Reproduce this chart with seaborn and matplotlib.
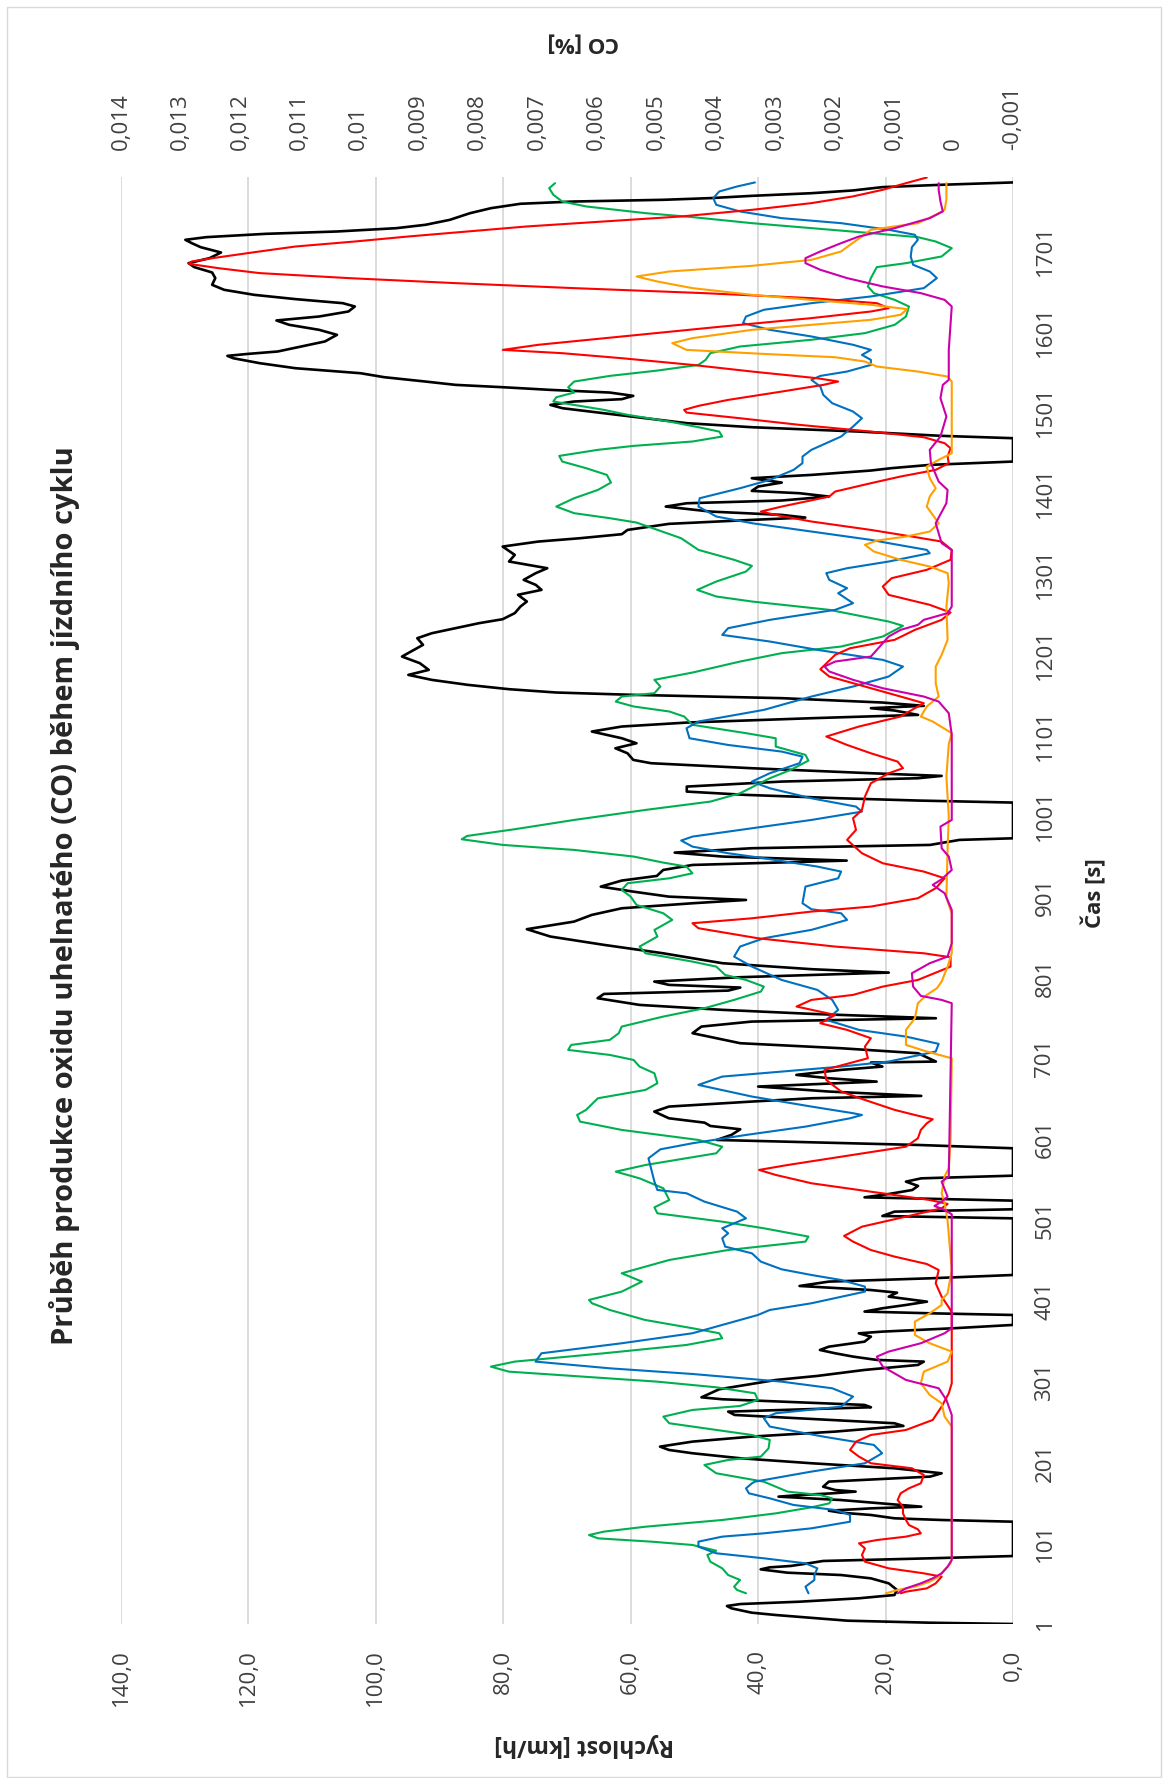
import matplotlib
matplotlib.use("Agg")
import matplotlib.pyplot as plt
import seaborn as sns
from matplotlib.patches import Rectangle

# ---- data (time in s, speed in km/h, CO in %) ----
speed_t = [1, 2.6, 5.1, 9.2, 12.1, 15, 20.4, 23.3, 25.7, 28.6, 32.8, 36.9, 43.1, 51.3, 57.5, 61.6, 64.5, 68.6, 71.1,
           72.8, 76.1, 79, 82.3, 85.1, 127.6, 129.7, 131.8, 135.9, 138.8, 141.2, 144.1, 146.2, 149.5, 154.4, 158.6,
           160.6, 162.7, 164.8, 166.8, 170.9, 177.2, 183.4, 187.5, 193.7, 199.9, 206.1, 212.3, 216.4, 220.5, 226.7,
           232.9, 239.1, 246.1, 249.4, 259.7, 263.8, 269.2, 272.1, 279.1, 281.5, 291.5, 303, 308, 315.4, 321.6, 325.7,
           327.8, 331.9, 336, 340.1, 344.2, 350.4, 356.6, 360.7, 362.8, 367, 371.1, 383.4, 385.5, 387.6, 391.7, 395.8,
           399.9, 406.1, 411, 414.3, 419.3, 424.7, 428.8, 432.9, 503, 505.9, 511.3, 514.2, 524.9, 529, 533.1, 538.1,
           543.1, 548.4, 552.5, 555.8, 589.7, 593.8, 600, 606.2, 613.2, 617.3, 621.4, 626.8, 635.1, 641.3, 647.5,
           651.6, 654.5, 659.9, 666.1, 672.2, 676.4, 680.5, 686.7, 690.8, 695.8, 697, 707.3, 713.5, 719.7, 732.1,
           740.3, 746.5, 750.6, 756, 761, 767.1, 775.4, 780.7, 784.8, 788.6, 791.9, 796, 801.4, 807.1, 811.3, 818.7,
           831, 841.4, 851.7, 860.8, 870.2, 878.5, 886.7, 892.9, 897, 901.1, 907.3, 913.5, 921, 926.7, 934.1, 940.3,
           945.7, 950.7, 955.6, 961, 965.1, 971.3, 973.3, 1017.5, 1020, 1022.8, 1027, 1031.1, 1037.3, 1043.5, 1047.6,
           1050.5, 1053.8, 1060, 1066.2, 1070.3, 1078.5, 1084.7, 1090.9, 1097.1, 1105.4, 1111.6, 1116.5, 1121.9,
           1126, 1131.4, 1134.3, 1137.2, 1141.3, 1146.7, 1150.8, 1153.7, 1157.8, 1163.2, 1169.3, 1175.5, 1181.7,
           1190, 1198.2, 1204.4, 1212.7, 1220.9, 1227.1, 1233.3, 1239.5, 1244.4, 1251.9, 1260.1, 1266.3, 1274.6,
           1280.7, 1286.9, 1293.1, 1301.4, 1307.5, 1315.8, 1324, 1334.3, 1340.5, 1344.6, 1349.6, 1354.9, 1362.4,
           1367.3, 1370.2, 1373.5, 1377.6, 1383.8, 1387.9, 1391.3, 1396.2, 1400.3, 1403.2, 1408.6, 1413.5, 1418.9,
           1423, 1428.4, 1431.3, 1435.4, 1439.5, 1468.4, 1471.3, 1476.6, 1482, 1487, 1493.1, 1499.3, 1505.5, 1509.6,
           1513.8, 1516.7, 1520.8, 1524.9, 1528.2, 1531.5, 1534.4, 1538.5, 1543.9, 1548.8, 1555, 1561.2, 1567.4,
           1570.3, 1572.7, 1575.7, 1581.9, 1588.1, 1596.3, 1602.5, 1608.7, 1614.1, 1619, 1625.2, 1631.4, 1635.5,
           1640.5, 1645.8, 1652, 1658.2, 1666.5, 1673.5, 1680.1, 1685, 1691.2, 1698.2, 1704.8, 1709.8, 1713.9,
           1717.2, 1721.3, 1724.2, 1728.3, 1732.5, 1738.6, 1746.9, 1753.1, 1758.5, 1761.3, 1763.4, 1765.5, 1768.3,
           1771.6, 1775, 1779.1, 1782, 1784.9]
speed_v = [0, 13, 26, 32.6, 37.2, 41, 44.2, 44.9, 42.8, 33.5, 24.2, 18.6, 18.2, 19.5, 22.3, 27, 35.4, 39.6, 38.2,
           34.9, 32.1, 29.8, 13, 0, 0, 11.2, 18.6, 22.3, 27, 28.9, 22.3, 14.4, 19.5, 27, 36.8,
           33.5, 28.4, 24.7, 27.9, 29.8, 28.9, 13, 11.2, 18.6, 31.6, 42.8, 50.3, 54, 55.4, 50.3,
           41, 27.9, 17.2, 18.6, 43.7, 44.7, 22.3, 23.3, 45.6, 48.9, 46.1, 37.2, 30.7, 23.3, 14.9, 14,
           21.4, 25.1, 27.9, 30.3, 28.9, 23.3, 22.3, 24.2, 20.5, 9.3, 0, 0, 13, 23.3, 20.5, 16.8,
           13.5, 19.5, 18.2, 22.3, 33.5, 28.9, 13, 0, 0, 20.5, 18.6, 0, 0, 23.3, 19.5, 15.8,
           14.9, 16.8, 14.4, 0, 0, 14.9, 46.5, 44.2, 42.8, 47.5, 48.4, 54, 56.3, 54, 41,
           31.6, 14.4, 28.9, 40, 21.4, 28.9, 34, 27, 20.5, 22.3, 12.1, 14.9, 27, 42.8, 50.3,
           48.9, 41, 12.1, 31.6, 45.6, 58.6, 65.2, 64.2, 44.7, 42.8, 54, 56.3, 42.8, 19.5, 31.6, 45.6,
           54.9, 64.2, 72.6, 76.3, 68.9, 66.1, 61.4, 50.3, 41.9, 54, 59.6, 64.7, 61.4, 55.9, 54.9, 50.3,
           26.1, 45.6, 53.1, 41, 13, 8.4, 0, 0, 14.9, 27, 41.9, 51.2, 51.2, 36.3, 14.9,
           11.2, 22.3, 41, 56.8, 59.6, 60.5, 62.4, 59.1, 61.4, 66.1, 61.4, 51.2, 31.6,
           14.9, 18.6, 22.3, 14, 20.5, 36.3, 59.6, 71.7, 79.1, 85.6, 91.2, 94.9, 91.7,
           93.1, 95.9, 94.5, 92.6, 93.5, 91.2, 87.5, 83.8, 80.1, 78.2, 77.3, 76.3, 77.7,
           74, 74.9, 76.8, 74.9, 73.1, 79.1, 78.2, 80.1, 74.5, 68, 61.4, 60.5, 54,
           41, 32.6, 36.3, 47.5, 54.5, 51.2, 36.3, 28.9, 33.5, 41, 40, 36.3, 41,
           31.6, 22.3, 19.1, 13, 0, 0, 11.2, 24.2, 41, 51.2, 57.7, 64.2, 70.7, 72.6,
           68.9, 61.4, 59.6, 63.3, 72.6, 80.1, 87.5, 92.2, 98.7, 102.4, 112.6, 118.2, 122.4,
           123.3, 120.1, 115.4, 111.7, 108, 106.1, 108.9, 113.6, 115.6, 108.9, 104.3, 103.3, 105.2,
           112.6, 119.1, 123.8, 125.7, 125.2, 125.7, 128.5, 129.4, 126.1, 124.3, 127.5, 128.9, 129.9,
           126.6, 117.3, 106.1, 96.8, 92.2, 88.4, 85.2, 81.9, 77.3, 68.9, 54.9, 47.5, 41,
           31.6, 25.1, 20.5, 11.2, 0]

green_t = [39, 43.1, 47.2, 55.5, 61.6, 69.9, 78.1, 86.4, 91.7, 98.8, 102.9, 107, 111.1, 115.3, 121.4, 129.7, 137.9,
           145.4, 150.3, 156.5, 160.6, 164.8, 170.9, 177.1, 187.5, 197.8, 204, 208.1, 218.4, 228.8, 234.9, 241.1,
           249.4, 257.6, 265.9, 270.8, 278.3, 286.5, 293.9, 300.9, 307.9, 313.3, 319.5, 325.7, 336, 346.3, 354.6,
           360.8, 367, 377.3, 389.6, 397.9, 402, 412.3, 424.7, 435, 451.5, 463.8, 474.2, 480.4, 490.7, 498.9, 509.2,
           516.6, 525.7, 540.2, 552.5, 560.8, 569, 583.5, 591.7, 600, 612.4, 622.7, 630.9, 637.2, 651.6, 661.9,
           670.2, 682.5, 690.8, 699, 705.2, 711.4, 717.6, 723.8, 732.1, 740.3, 752.7, 763, 773.3, 783.6, 789.8, 798,
           804.2, 814.5, 820.7, 831, 839.3, 851.7, 859.9, 872.3, 880.5, 890.8, 901.1, 909.4, 917.7, 923.8, 930,
           938.3, 943.2, 950.7, 958.9, 965.1, 972.1, 976.2, 984.5, 996, 1008.4, 1018.7, 1029, 1047.6, 1057.9,
           1069.4, 1076.5, 1086.8, 1097.1, 1103.4, 1113.7, 1124, 1130.2, 1136.4, 1142.5, 1148.7, 1152.9, 1161.1,
           1169.4, 1178.4, 1192, 1202.4, 1210.6, 1223, 1236.2, 1241.5, 1256, 1266.3, 1272.5, 1280.7, 1291, 1303.4,
           1310.4, 1317.9, 1330.2, 1344.6, 1354.9, 1364, 1369.4, 1375.6, 1383.8, 1394.1, 1404.4, 1413.5, 1423,
           1431.3, 1439.5, 1446.5, 1454, 1458.9, 1464.3, 1470.5, 1476.6, 1482, 1489, 1497.3, 1503.5, 1509.6,
           1513.8, 1519.1, 1524.9, 1531.5, 1538.5, 1545.5, 1552.1, 1559.1, 1565.3, 1573.6, 1581.9, 1590.2, 1598.4,
           1608.7, 1619, 1631.4, 1639.6, 1647.9, 1656.2, 1666.5, 1680.1, 1685, 1693.3, 1703.6, 1711.8, 1717.2,
           1722.2, 1728.3, 1734.5, 1742, 1746.9, 1755.2, 1761.3, 1769.6, 1777.8, 1784]
green_co = [0.00349, 0.00364, 0.00369, 0.00359, 0.00379, 0.00389, 0.00409, 0.00414, 0.00399, 0.00439, 0.00508,
            0.00598, 0.00613, 0.00588, 0.00518, 0.00389, 0.00299, 0.00239, 0.00209, 0.00204, 0.00224, 0.00279,
            0.00299, 0.00319, 0.00399, 0.00419, 0.00379, 0.00324, 0.00311, 0.00309, 0.00339, 0.00399, 0.00478,
            0.00488, 0.00439, 0.00359, 0.00329, 0.00334, 0.00399, 0.00498, 0.00638, 0.00748, 0.00778, 0.00738,
            0.00588, 0.00449, 0.00389, 0.00394, 0.00439, 0.00519, 0.00578, 0.00608, 0.00613, 0.00558, 0.00524,
            0.00558, 0.00478, 0.00379, 0.00249, 0.00244, 0.00319, 0.00389, 0.00498, 0.00503, 0.00478, 0.00488,
            0.00528, 0.00568, 0.00518, 0.00399, 0.00389, 0.00429, 0.00558, 0.00628, 0.00633, 0.00618, 0.00598,
            0.00518, 0.00498, 0.00503, 0.00528, 0.00538, 0.00578, 0.00648, 0.00643, 0.00578, 0.00563, 0.00558,
            0.00488, 0.00419, 0.00369, 0.00324, 0.00319, 0.00349, 0.00384, 0.00399, 0.00439, 0.00518, 0.00528,
            0.00498, 0.00503, 0.00473, 0.00488, 0.00533, 0.00543, 0.00558, 0.00548, 0.00478, 0.00439, 0.00449,
            0.00488, 0.00538, 0.00638, 0.00758, 0.00827, 0.00818, 0.00738, 0.00638, 0.00518, 0.00409, 0.00359,
            0.00309, 0.00274, 0.00244, 0.00249, 0.00299, 0.00299, 0.00349, 0.00439, 0.00453, 0.00478, 0.00538,
            0.00568, 0.00558, 0.00503, 0.00493, 0.00503, 0.00439, 0.00359, 0.00289, 0.00189, 0.00119, 0.00085,
            0.00109, 0.00209, 0.00339, 0.00399, 0.00431, 0.00399, 0.00349, 0.00339, 0.00369, 0.00429, 0.00458,
            0.00498, 0.00533, 0.00578, 0.00638, 0.00668, 0.00638, 0.00598, 0.00576, 0.00583, 0.00618, 0.00658,
            0.00663, 0.00598, 0.00538, 0.00439, 0.00389, 0.00394, 0.00429, 0.00478, 0.00548, 0.00588, 0.00638,
            0.00673, 0.00668, 0.00638, 0.00648, 0.00638, 0.00578, 0.00498, 0.00429, 0.00417, 0.00409, 0.00359,
            0.00239, 0.00149, 0.00099, 0.0008, 0.00075, 0.00099, 0.00134, 0.00144, 0.00139, 0.00129, 0.0008,
            0.0002, 0.00003, 0.0003, 0.0006, 0.00139, 0.00239, 0.00339, 0.00439, 0.00518, 0.00618, 0.00658,
            0.00673, 0.0068, 0.0067]

blue_t = [39, 47.2, 55.5, 61.6, 69.9, 76.1, 82.3, 88.5, 96.7, 102.9, 109.1, 113.2, 119.4, 127.6, 135.9, 142.1, 148.3,
          156.5, 162.7, 168.9, 175.1, 177.2, 189.6, 199.9, 212.3, 222.6, 232.9, 245.3, 255.6, 261.8, 270, 282.4,
          292.7, 300.9, 310.4, 317.4, 325.7, 336, 348.4, 360.8, 371.1, 383.4, 389.6, 397.9, 412.3, 418.5, 426.7,
          432.9, 439.9, 449.4, 459.7, 468, 478.3, 484.5, 490.7, 503, 511.3, 523.7, 534, 538.1, 548.4, 562.8, 577.3,
          588.4, 595.9, 606.2, 616.5, 626.8, 630.9, 633.1, 641.3, 653.7, 668.1, 678.4, 684.6, 690.8, 697, 709.4,
          718.9, 727.9, 736.2, 748.6, 761, 773.3, 785.7, 798, 814.5, 826.9, 839.3, 849.6, 860, 872.3, 880.5, 885.5,
          892.9, 913.5, 923.8, 932.1, 938.3, 948.6, 954.8, 963, 970.5, 975.4, 985.7, 996, 1006.3, 1012.5, 1022.8,
          1035.2, 1043.5, 1053.8, 1066.2, 1074.4, 1080.6, 1088.8, 1097.1, 1109.5, 1117.8, 1132.2, 1148.7, 1161.1,
          1173.5, 1185.8, 1194.1, 1206.5, 1216.8, 1225, 1233.3, 1243.6, 1256, 1264.2, 1276.6, 1282.8, 1293.1,
          1301.4, 1307.5, 1315.8, 1326.1, 1330.2, 1338.5, 1342.6, 1352.9, 1363.2, 1371.5, 1383.8, 1394.1, 1406.5,
          1416.8, 1429.2, 1437.5, 1445.7, 1454, 1470.5, 1482.8, 1493.1, 1501.4, 1511.7, 1522, 1532.3, 1540.6,
          1545.5, 1550.9, 1559.1, 1565.3, 1571.5, 1577.7, 1584, 1594.3, 1602.5, 1610.8, 1619, 1627.3, 1635.5,
          1643.8, 1654.1, 1666.5, 1674.7, 1683, 1693.3, 1704.8, 1713.9, 1720.1, 1726.3, 1734.5, 1740.7, 1749,
          1757.2, 1765.5, 1773.7, 1779.9, 1784.9]
blue_co = [0.00244, 0.00249, 0.00234, 0.00234, 0.00229, 0.00249, 0.00319, 0.00399, 0.00429, 0.00429, 0.00389,
           0.00319, 0.00239, 0.00174, 0.00174, 0.00199, 0.00269, 0.00309, 0.00344, 0.00349, 0.00339, 0.00334,
           0.00239, 0.00149, 0.0012, 0.00134, 0.00219, 0.00309, 0.00319, 0.00299, 0.00189, 0.00169, 0.00204,
           0.00289, 0.00439, 0.00578, 0.00703, 0.00693, 0.00558, 0.00439, 0.00389, 0.00329, 0.00309, 0.00239,
           0.00149, 0.00149, 0.00189, 0.00239, 0.00289, 0.00324, 0.00339, 0.00384, 0.00389, 0.00379, 0.00389,
           0.00349, 0.00364, 0.00419, 0.00449, 0.00498, 0.00503, 0.00508, 0.00513, 0.00493, 0.00439, 0.00349,
           0.00249, 0.00174, 0.00154, 0.00169, 0.00239, 0.00339, 0.00429, 0.00389, 0.00289, 0.00189, 0.00109,
           0.0003, 0.00025, 0.0008, 0.00159, 0.00214, 0.00194, 0.00204, 0.00229, 0.00289, 0.00339, 0.00369,
           0.00359, 0.00319, 0.00239, 0.00179, 0.00189, 0.00239, 0.00254, 0.00249, 0.00194, 0.00189, 0.00229,
           0.00319, 0.00379, 0.00439, 0.00458, 0.00439, 0.00339, 0.00239, 0.00154, 0.00164, 0.00239, 0.00309,
           0.00339, 0.00309, 0.00259, 0.00254, 0.00289, 0.00379, 0.00444, 0.00449, 0.00429, 0.00319, 0.00239,
           0.00169, 0.00109, 0.00085, 0.00119, 0.00229, 0.00309, 0.00389, 0.00379, 0.00309, 0.00199, 0.00169,
           0.00194, 0.00179, 0.00209, 0.00214, 0.00179, 0.00109, 0.0004, 0.00045, 0.00109, 0.00139, 0.00239,
           0.00339, 0.00399, 0.00429, 0.00427, 0.00359, 0.00309, 0.00269, 0.00254, 0.00254, 0.00239, 0.00189,
           0.00169, 0.00154, 0.00169, 0.00204, 0.00219, 0.00224, 0.00239, 0.00224, 0.00179, 0.00139, 0.00139,
           0.00154, 0.00139, 0.00169, 0.00239, 0.00309, 0.00354, 0.00349, 0.00319, 0.00239, 0.00139, 0.0005,
           0.00028, 0.0004, 0.00068, 0.00072, 0.0007, 0.0006, 0.00065, 0.00109, 0.00189, 0.00289, 0.00359,
           0.00399, 0.00404, 0.00394, 0.00364, 0.00334]

red_t = [39, 41, 45.1, 51.3, 59.6, 63.7, 69.9, 78.1, 86.4, 94.6, 100.8, 104.9, 109.1, 113.2, 118.2, 123.5, 129.7,
         137.9, 146, 154.4, 162.7, 168.9, 175.1, 185.4, 193.7, 199.9, 208.1, 216.4, 226.7, 234.9, 241.1, 253.5, 270,
         286.5, 298.9, 385, 389.6, 406.1, 422.6, 439.1, 446.5, 455.6, 463.8, 474.2, 481.2, 492.7, 505.1, 515.4,
         520.8, 525.7, 536, 546.4, 556.7, 562.9, 569, 579.3, 591.7, 602, 612.4, 620.6, 625.6, 630.9, 637.2, 649.5,
         659.9, 674.3, 686.7, 701.1, 715.6, 725.9, 736.2, 744.4, 754.7, 765.1, 773.3, 779.5, 789.8, 798, 814.5,
         826.1, 831, 839.3, 849.6, 862, 868.2, 874.3, 882.6, 888.8, 899.1, 911.5, 923.8, 932.1, 942.4, 954.8, 971.3,
         983.7, 998.1, 1008.4, 1024.9, 1041.4, 1053.8, 1060, 1068.2, 1078.5, 1088.8, 1099.2, 1111.6, 1124, 1134.3,
         1140.5, 1148.7, 1161.1, 1173.5, 1182.5, 1200.3, 1208.5, 1218.9, 1231.2, 1243.6, 1252.7, 1262.2, 1274.5,
         1284.9, 1295.2, 1305.5, 1317.9, 1330.2, 1340.5, 1346.7, 1354.9, 1365.3, 1373.5, 1377.6, 1383.8, 1390,
         1396.2, 1402.4, 1412.7, 1421, 1429.2, 1437.5, 1445.7, 1456, 1462.2, 1469.6, 1476.6, 1484.9, 1493.1,
         1500.1, 1503.5, 1508.4, 1515.8, 1526.1, 1534.4, 1538.5, 1542.6, 1550.9, 1559.1, 1567.4, 1573.6, 1577.7,
         1584, 1594.3, 1606.6, 1617, 1625.2, 1629.3, 1635.5, 1641.7, 1647.9, 1654.1, 1660.3, 1666.5, 1672.7,
         1678.8, 1684.2, 1687.1, 1691.2, 1697.4, 1705.6, 1711.8, 1718, 1724.2, 1730.4, 1736.6, 1742.8, 1751,
         1759.3, 1767.5, 1775.8, 1784, 1791]
red_co = [0.00089, 0.0008, 0.00045, 0.0003, 0.0002, 0.0005, 0.00109, 0.00149, 0.00154, 0.00149, 0.00159, 0.00129,
          0.0008, 0.00055, 0.0006, 0.00075, 0.0008, 0.00085, 0.00085, 0.00094, 0.00089, 0.00075, 0.00055, 0.0005,
          0.0007, 0.00139, 0.00159, 0.00174, 0.00164, 0.00139, 0.0008, 0.00035, 0.0002, 0.00008, 0.00003, 0.00003,
          0.00005, 0.0002, 0.0003, 0.00025, 0.00045, 0.00099, 0.00139, 0.00169, 0.00184, 0.00154, 0.0008, 0.0002,
          0.0001, 0.0004, 0.00139, 0.00239, 0.00299, 0.00327, 0.00279, 0.00189, 0.0008, 0.0006, 0.00055, 0.00045,
          0.00035, 0.00065, 0.00099, 0.00149, 0.00189, 0.00214, 0.00217, 0.00144, 0.00149, 0.00139, 0.00179,
          0.00224, 0.00199, 0.00264, 0.00239, 0.00169, 0.00119, 0.0006, 0.00005, 0.00005, 0.0005, 0.00199,
          0.00329, 0.00429, 0.00439, 0.00339, 0.00239, 0.00139, 0.0006, 0.0003, 0.00015, 0.0005, 0.00119,
          0.00154, 0.00179, 0.00164, 0.00169, 0.00154, 0.00149, 0.00139, 0.00109, 0.00085, 0.00094, 0.00139,
          0.00179, 0.00214, 0.00159, 0.00089, 0.00065, 0.0005, 0.00089, 0.00149, 0.00209, 0.00224, 0.00199,
          0.00174, 0.00099, 0.00065, 0.0002, 0.00005, 0.0004, 0.00109, 0.00119, 0.00104, 0.00045, 0.00005,
          0.00003, 0.0002, 0.0007, 0.00139, 0.00239, 0.00299, 0.00324, 0.00289, 0.00249, 0.00209, 0.00199,
          0.00139, 0.00089, 0.0003, 0.00008, 0.0001, 0.00005, 0.00015, 0.0005, 0.00139, 0.00259, 0.00359,
          0.00449, 0.00453, 0.00429, 0.00379, 0.00289, 0.00219, 0.00194, 0.00229, 0.00339, 0.00439, 0.00558,
          0.00658, 0.00758, 0.00698, 0.00558, 0.00389, 0.00239, 0.00139, 0.00109, 0.00129, 0.00239, 0.00419,
          0.00638, 0.00838, 0.01017, 0.01167, 0.01236, 0.01286, 0.01281, 0.01246, 0.01187, 0.01107, 0.01007,
          0.00917, 0.00818, 0.00718, 0.00588, 0.00458, 0.00339, 0.00239, 0.0017, 0.00119, 0.0008, 0.00045]

orange_t = [39, 43.1, 47.2, 53.4, 59.6, 67.8, 76.1, 82.3, 245.3, 257.6, 274.1, 284.4, 298.9, 313.3, 325.7, 338.1,
            348.4, 358.7, 375.2, 385.5, 395.8, 402, 410.2, 439.1, 500, 521.6, 534, 555, 565, 600, 701.1, 709.4,
            717.6, 736.2, 750.6, 769.2, 779.5, 787.7, 796, 814.5, 831, 880, 900, 960, 1000, 1050, 1090, 1103.4,
            1117.8, 1124, 1136.4, 1148.7, 1165.2, 1185.8, 1200.3, 1218.9, 1260.1, 1289, 1301.4, 1309.6, 1317.9,
            1328.2, 1336.4, 1341.7, 1346.7, 1352.9, 1363.2, 1373.5, 1383.8, 1396.2, 1406.5, 1418.9, 1433.3, 1441.6,
            1449.8, 1538.5, 1544.7, 1550.9, 1557.1, 1563.3, 1568.6, 1572.7, 1577.7, 1586, 1592.2, 1602.5, 1608.7,
            1614.9, 1621.1, 1628.1, 1633.5, 1639.6, 1645.8, 1654.1, 1662.3, 1668.5, 1674.7, 1681.7, 1689.1, 1699.5,
            1707.7, 1718, 1726.3, 1734.5, 1744.8, 1751, 1763.4, 1784]
orange_co = [0.00114, 0.00094, 0.00065, 0.0004, 0.00025, 0.00015, 0.00005, 0.00003, 0.00003, 0.00015, 0.0002,
             0.0004, 0.00055, 0.0005, 0.0001, 0.00003, 0.0004, 0.00065, 0.00065, 0.0004, 0.0002, 0.0002, 0.0001,
             0.00003, 0.0001, 0.00015, 0.0002, 0.00015, 0.00008, 0.00005, 0.00003, 0.00045, 0.0008, 0.0008,
             0.00065, 0.0006, 0.00045, 0.00028, 0.0002, 0.0001, 0.00003, 0.00003, 0.00012, 0.0001, 0.00008,
             0.00012, 0.00008, 0.00003, 0.00035, 0.00055, 0.00045, 0.00025, 0.0003, 0.0003, 0.0002, 0.0001,
             0.00012, 0.00008, 0.0001, 0.0004, 0.00089, 0.00134, 0.00149, 0.00129, 0.0008, 0.0004, 0.00025,
             0.00035, 0.00045, 0.0004, 0.0003, 0.0004, 0.00045, 0.00025, 0.00003, 0.00003, 0.0001, 0.0006,
             0.00129, 0.00149, 0.00199, 0.00319, 0.00449, 0.00473, 0.00439, 0.00339, 0.00239, 0.00139, 0.00089,
             0.00078, 0.00139, 0.00239, 0.00339, 0.00439, 0.00498, 0.00533, 0.00478, 0.00339, 0.00239, 0.00189,
             0.00174, 0.00154, 0.00139, 0.0006, 0.0003, 0.00015, 0.00012, 0.00012]

magenta_t = [39, 45.1, 51.3, 57.5, 63.7, 71.9, 80.2, 259.7, 278.3, 292.7, 303, 319.5, 331.9, 338.1, 348.4, 360.8, 367,
             508, 513.4, 518.3, 523.7, 529.9, 548.4, 554.6, 769.2, 773.3, 778.3, 789.8, 806.3, 818.7, 826.9, 843.4,
             884.7, 905.3, 915.6, 922.6, 934.1, 950.7, 961, 987.8, 996, 1101.3, 1128.1, 1142.5, 1148.7, 1159,
             1169.4, 1179.7, 1185.9, 1192, 1198.2, 1210.6, 1223, 1231.2, 1237.4, 1243.6, 1251.9, 1260.1, 1330,
             1338.5, 1363.2, 1388, 1404.4, 1414.8, 1437.5, 1454, 1470.5, 1495.2, 1517.9, 1534.4, 1540.6, 1577.7,
             1631.4, 1639.6, 1647.9, 1656.2, 1666.5, 1676.8, 1685, 1691.2, 1699.5, 1709.8, 1718, 1728.3, 1740.7,
             1749, 1761.3, 1775.8, 1784]
magenta_co = [0.00094, 0.0008, 0.00055, 0.00035, 0.0002, 0.0001, 0.00003, 0.00003, 0.00012, 0.00025, 0.0008,
              0.00119, 0.00129, 0.00109, 0.00055, 0.00015, 0.00003, 0.00003, 0.00015, 0.00032, 0.0002, 0.0001,
              0.0002, 0.00008, 0.00003, 0.0002, 0.00055, 0.00068, 0.0007, 0.0004, 0.0001, 0.00003, 0.00003,
              0.00015, 0.00035, 0.0002, 0.00003, 0.00008, 0.0002, 0.00022, 0.00003, 0.00003, 0.00008, 0.00025,
              0.0005, 0.00119, 0.00169, 0.00209, 0.00217, 0.00199, 0.00139, 0.00124, 0.00109, 0.00089, 0.0006,
              0.0005, 0.0001, 0.00003, 0.00003, 0.0002, 0.0003, 0.00012, 0.0001, 0.00025, 0.00038, 0.0004,
              0.00022, 0.00012, 0.00022, 0.00018, 0.00008, 0.00008, 0.00003, 0.00015, 0.00055, 0.00119, 0.00179,
              0.00224, 0.00249, 0.00249, 0.00224, 0.00189, 0.00159, 0.00099, 0.0004, 0.00018, 0.00022, 0.00025,
              0.00025]

speed_ticks = [0, 20, 40, 60, 80, 100, 120, 140]
speed_labels = ["0,0", "20,0", "40,0", "60,0", "80,0", "100,0", "120,0", "140,0"]
co_ticks = [-0.001, 0, 0.001, 0.002, 0.003, 0.004, 0.005, 0.006, 0.007, 0.008, 0.009, 0.01, 0.011, 0.012,
            0.013, 0.014]
co_labels = ["-0,001", "0", "0,001", "0,002", "0,003", "0,004", "0,005", "0,006", "0,007", "0,008", "0,009",
             "0,01", "0,011", "0,012", "0,013", "0,014"]
time_ticks = [1, 101, 201, 301, 401, 501, 601, 701, 801, 901, 1001, 1101, 1201, 1301, 1401, 1501, 1601, 1701]
time_labels = [str(t) for t in time_ticks]

sns.set_style("white")
plt.rcParams["font.family"] = ["Open Sans", "DejaVu Sans"]

W, H = 1163, 1778
fig = plt.figure(figsize=(W / 100, H / 100), dpi=100)
ax = fig.add_axes([121 / W, (H - 1624) / H, 892 / W, (1624 - 176.7) / H])
ax2 = ax.twiny()

tick_col = "#404040"
title_col = "#262626"

# speed on the primary axis
sns.lineplot(x=speed_v, y=speed_t, ax=ax, color="black", lw=1.9, sort=False,
             estimator=None, orient="y", legend=False)

# CO series on the secondary axis
for vals, ts, col in [(green_co, green_t, "#00B050"), (blue_co, blue_t, "#0070C0"),
                      (red_co, red_t, "#FF0000"), (orange_co, orange_t, "#FFA000"),
                      (magenta_co, magenta_t, "#CC00AA")]:
    sns.lineplot(x=vals, y=ts, ax=ax2, color=col, lw=1.5, sort=False,
                 estimator=None, orient="y", legend=False)

ax.set_xlim(140, 0)
ax.set_ylim(1, 1792)
ax2.set_xlim(0.014, -0.001)

ax.set_xticks(speed_ticks)
ax.set_xticklabels(speed_labels, rotation=90)
ax.yaxis.tick_right()
ax.set_yticks(time_ticks)
ax.set_yticklabels(time_labels, rotation=90, va="center", ha="center")
ax2.set_xticks(co_ticks)
ax2.set_xticklabels(co_labels, rotation=90)

ax.tick_params(axis="x", length=0, pad=18.5, labelsize=16, labelcolor=tick_col)
ax.tick_params(axis="y", length=0, pad=23, labelsize=16, labelcolor=tick_col)
ax2.tick_params(axis="x", length=0, pad=19, labelsize=16, labelcolor=tick_col)

ax.grid(axis="x", color="#D9D9D9", lw=1.3)
ax.grid(axis="y", visible=False)
ax2.grid(False)
ax.set_axisbelow(True)
for a in (ax, ax2):
    a.set_xlabel("")
    a.set_ylabel("")
    for s in a.spines.values():
        s.set_visible(False)

fig.text(64.6 / W, 1 - 895.5 / H, "Průběh produkce oxidu uhelnatého (CO) během jízdního cyklu",
         rotation=90, ha="center", va="center", fontsize=21, fontweight="bold", color=title_col)
fig.text(1094 / W, 1 - 893 / H, "Čas [s]", rotation=90, ha="center", va="center",
         fontsize=16, fontweight="bold", color=title_col)
fig.text(584 / W, 1 - 1745 / H, "Rychlost [km/h]", rotation=180, ha="center", va="center",
         fontsize=16.5, fontweight="bold", color=title_col)
fig.text(583 / W, 1 - 43 / H, "CO [%]", rotation=180, ha="center", va="center",
         fontsize=16, fontweight="bold", color=title_col)

fig.add_artist(Rectangle((7 / W, 1 / H), 1154 / W, 1770 / H, transform=fig.transFigure,
                         fill=False, edgecolor="#D9D9D9", lw=1.0))

fig.savefig("out.png", dpi=100)
